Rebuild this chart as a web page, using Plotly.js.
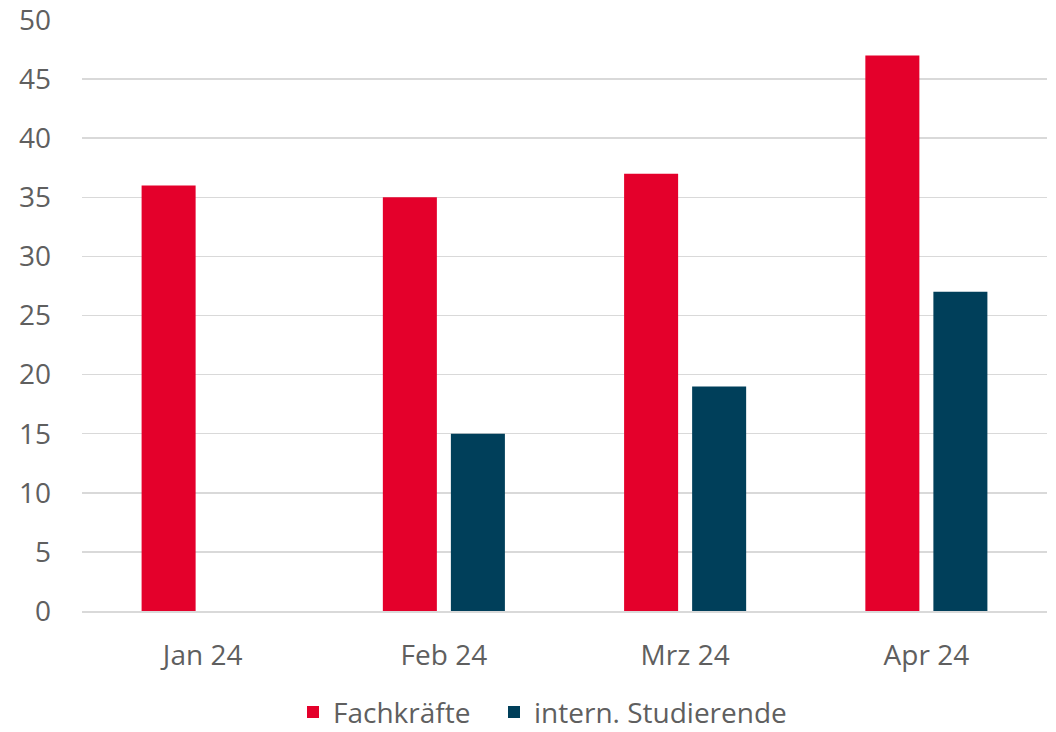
<!DOCTYPE html>
<html>
<head>
<meta charset="utf-8">
<script src="https://cdn.plot.ly/plotly-3.0.1.min.js"></script>
<style>html,body{margin:0;padding:0;background:#fff;}#chart{width:1056px;height:732px;}</style>
</head>
<body>
<div id="chart"></div>
<script>
const categories = ["Jan 24", "Feb 24", "Mrz 24", "Apr 24"];
const fachkraefte = [36, 35, 37, 47];
const studierende = [null, 15, 19, 27];
const seriesNames = ["Fachkräfte", "intern. Studierende"];
const yTicks = [0, 5, 10, 15, 20, 25, 30, 35, 40, 45, 50];

const data = [
  {type: "bar", x: categories, y: fachkraefte, name: seriesNames[0], marker: {color: "#E4002B"}, legend: "legend"},
  {type: "bar", x: categories, y: studierende, name: seriesNames[1], marker: {color: "#003F5A"}, legend: "legend2"}
];
const legendStyle = {orientation: "h", xref: "container", yref: "container", xanchor: "left", y: 0.027, yanchor: "middle", font: {size: 28, color: "#5f5f5f"}, itemwidth: 30};
const layout = {
  width: 1056, height: 732,
  margin: {l: 82, r: 9, t: 20, b: 121, autoexpand: false},
  paper_bgcolor: "#fff", plot_bgcolor: "#fff",
  font: {family: "Open Sans, Noto Sans, sans-serif", size: 28, color: "#5f5f5f"},
  barmode: "group", bargap: 0.436, bargroupgap: 0.206,
  showlegend: true,
  legend: Object.assign({}, legendStyle, {x: 293 / 1056}),
  legend2: Object.assign({}, legendStyle, {x: 494 / 1056}),
  xaxis: {type: "category", showgrid: false, showline: true, linecolor: "#d9d9d9", linewidth: 2, ticks: "", tickfont: {size: 28, color: "#5f5f5f"}, ticklabelstandoff: 18, automargin: false},
  yaxis: {range: [0, 50.0001], tickvals: yTicks, showgrid: true, gridcolor: "#d9d9d9", gridwidth: 1.5, zeroline: false, showline: false, ticks: "", tickfont: {size: 28, color: "#5f5f5f"}, ticklabelstandoff: 30, ticklabeloverflow: "allow", automargin: false}
};
Plotly.newPlot("chart", data, layout, {displayModeBar: false, staticPlot: true});
</script>
</body>
</html>
